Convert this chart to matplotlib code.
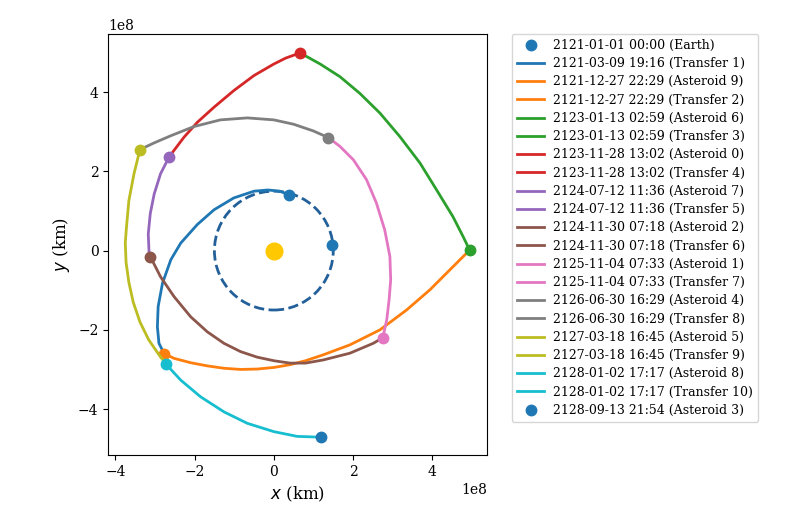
import matplotlib
matplotlib.use("Agg")
import matplotlib.pyplot as plt
from matplotlib.patches import Circle

plt.rcParams['font.family'] = ['DejaVu Serif']
plt.rcParams['font.size'] = 10

SCALE = 1e8  # km

# positions are in units of 1e8 km
earth_orbit_r = 1.5
sun = (0.0, 0.0)
earth_start = (1.46, 0.15)
earth_depart = (0.385, 1.41)

dates = ["2121-03-09 19:16", "2121-12-27 22:29", "2123-01-13 02:59",
         "2123-11-28 13:02", "2124-07-12 11:36", "2124-11-30 07:18",
         "2125-11-04 07:33", "2126-06-30 16:29", "2127-03-18 16:45",
         "2128-01-02 17:17"]
asteroids = [9, 6, 0, 7, 2, 1, 4, 5, 8]
final_date = "2128-09-13 21:54"
final_asteroid = 3

# arrival position for asteroids 9, 6, 0, 7, 2, 1, 4, 5, 8 and final 3
ast_x = [-2.77, 4.94, 0.66, -2.64, -3.12, 2.75, 1.38, -3.38, -2.72, 1.19]
ast_y = [-2.60, 0.02, 4.99, 2.37, -0.15, -2.20, 2.85, 2.55, -2.87, -4.71]

t1_x = [0.385, 0.15, -0.15, -0.50, -1.01, -1.51, -1.93, -2.35, -2.60, -2.81, -2.92, -2.94, -2.90, -2.77]
t1_y = [1.41, 1.50, 1.53, 1.50, 1.33, 1.03, 0.66, 0.19, -0.23, -0.82, -1.41, -1.92, -2.34, -2.60]

t2_x = [-2.77, -2.52, -2.10, -1.68, -1.26, -0.84, -0.42, 0.0, 0.41, 0.80, 1.25, 1.92, 2.68, 3.35, 3.94, 4.44, 4.86, 4.94]
t2_y = [-2.60, -2.72, -2.83, -2.91, -2.97, -3.00, -2.99, -2.95, -2.88, -2.78, -2.63, -2.38, -2.00, -1.50, -0.99, -0.49, -0.07, 0.02]

t3_x = [4.94, 4.78, 4.52, 4.11, 3.69, 3.18, 2.68, 2.17, 1.67, 1.17, 0.90, 0.66]
t3_y = [0.02, 0.35, 0.86, 1.53, 2.21, 2.88, 3.47, 3.97, 4.39, 4.71, 4.86, 4.99]

t4_x = [0.66, 0.30, 0.0, -0.50, -1.01, -1.51, -1.93, -2.27, -2.52, -2.64]
t4_y = [4.99, 4.86, 4.71, 4.42, 4.04, 3.62, 3.24, 2.86, 2.53, 2.37]

t5_x = [-2.64, -2.86, -3.02, -3.12, -3.17, -3.15, -3.12]
t5_y = [2.37, 1.94, 1.43, 0.93, 0.42, -0.04, -0.15]

t6_x = [-3.12, -2.86, -2.52, -2.10, -1.68, -1.26, -0.84, -0.42, 0.0, 0.41, 0.80, 1.25, 1.92, 2.51, 2.75]
t6_y = [-0.15, -0.66, -1.16, -1.67, -2.05, -2.34, -2.55, -2.69, -2.78, -2.84, -2.84, -2.76, -2.59, -2.34, -2.20]

t7_x = [2.75, 2.85, 2.91, 2.95, 2.93, 2.80, 2.59, 2.34, 2.01, 1.67, 1.38]
t7_y = [-2.20, -1.75, -1.24, -0.74, -0.15, 0.52, 1.20, 1.79, 2.29, 2.63, 2.85]

t8_x = [1.38, 1.00, 0.50, 0.0, -0.67, -1.35, -2.02, -2.60, -3.02, -3.38]
t8_y = [2.85, 3.02, 3.19, 3.30, 3.35, 3.30, 3.13, 2.90, 2.72, 2.55]

t9_x = [-3.38, -3.53, -3.66, -3.72, -3.75, -3.73, -3.66, -3.55, -3.38, -3.16, -2.92, -2.72]
t9_y = [2.55, 1.94, 1.26, 0.59, 0.20, -0.30, -0.80, -1.30, -1.80, -2.25, -2.60, -2.87]

t10_x = [-2.72, -2.35, -1.85, -1.26, -0.67, 0.0, 0.59, 1.19]
t10_y = [-2.87, -3.27, -3.69, -4.07, -4.36, -4.57, -4.69, -4.71]

transfers_x = [t1_x, t2_x, t3_x, t4_x, t5_x, t6_x, t7_x, t8_x, t9_x, t10_x]
transfers_y = [t1_y, t2_y, t3_y, t4_y, t5_y, t6_y, t7_y, t8_y, t9_y, t10_y]

colors = plt.rcParams['axes.prop_cycle'].by_key()['color']

fig = plt.figure(figsize=(8, 5.3), dpi=100)
ax = fig.add_axes([0.134, 0.1415, 0.476, 0.7945])

ax.add_patch(Circle(sun, earth_orbit_r * SCALE, fill=False, ls='--', lw=2,
                    color='#23609a'))
ax.plot(sun[0], sun[1], 'o', color='#ffc800', ms=12)
ax.plot(earth_start[0] * SCALE, earth_start[1] * SCALE, 'o', color=colors[0], ms=7.5,
        label="2121-01-01 00:00 (Earth)")
ax.plot(earth_depart[0] * SCALE, earth_depart[1] * SCALE, 'o', color=colors[0], ms=7.5)

for i in range(10):
    c = colors[i % 10]
    ax.plot([v * SCALE for v in transfers_x[i]], [v * SCALE for v in transfers_y[i]],
            '-', color=c, lw=2, label="%s (Transfer %d)" % (dates[i], i + 1))
    if i < 9:
        c2 = colors[(i + 1) % 10]
        # zero-length stay on the asteroid (line entry in the legend) + its marker
        ax.plot([ast_x[i] * SCALE], [ast_y[i] * SCALE], '-', color=c2, lw=2,
                label="%s (Asteroid %d)" % (dates[i + 1], asteroids[i]))
        ax.plot(ast_x[i] * SCALE, ast_y[i] * SCALE, 'o', color=c2, ms=7.5)

ax.plot(ast_x[9] * SCALE, ast_y[9] * SCALE, 'o', color=colors[0], ms=7.5,
        label="%s (Asteroid %d)" % (final_date, final_asteroid))

ax.set_xlim(-4.18e8, 5.38e8)
ax.set_ylim(-5.16e8, 5.47e8)
ax.set_aspect('equal', adjustable='box')
ax.set_xticks([-4e8, -2e8, 0, 2e8, 4e8])
ax.set_yticks([-4e8, -2e8, 0, 2e8, 4e8])
ax.set_xlabel('$x$ (km)', fontsize=12)
ax.set_ylabel('$y$ (km)', fontsize=12)

ax.legend(loc='upper left', bbox_to_anchor=(1.066, 1.0), borderaxespad=0,
          fontsize=9, labelspacing=0.42, handlelength=2.2, handletextpad=0.7)

fig.savefig('out.png', dpi=100)
